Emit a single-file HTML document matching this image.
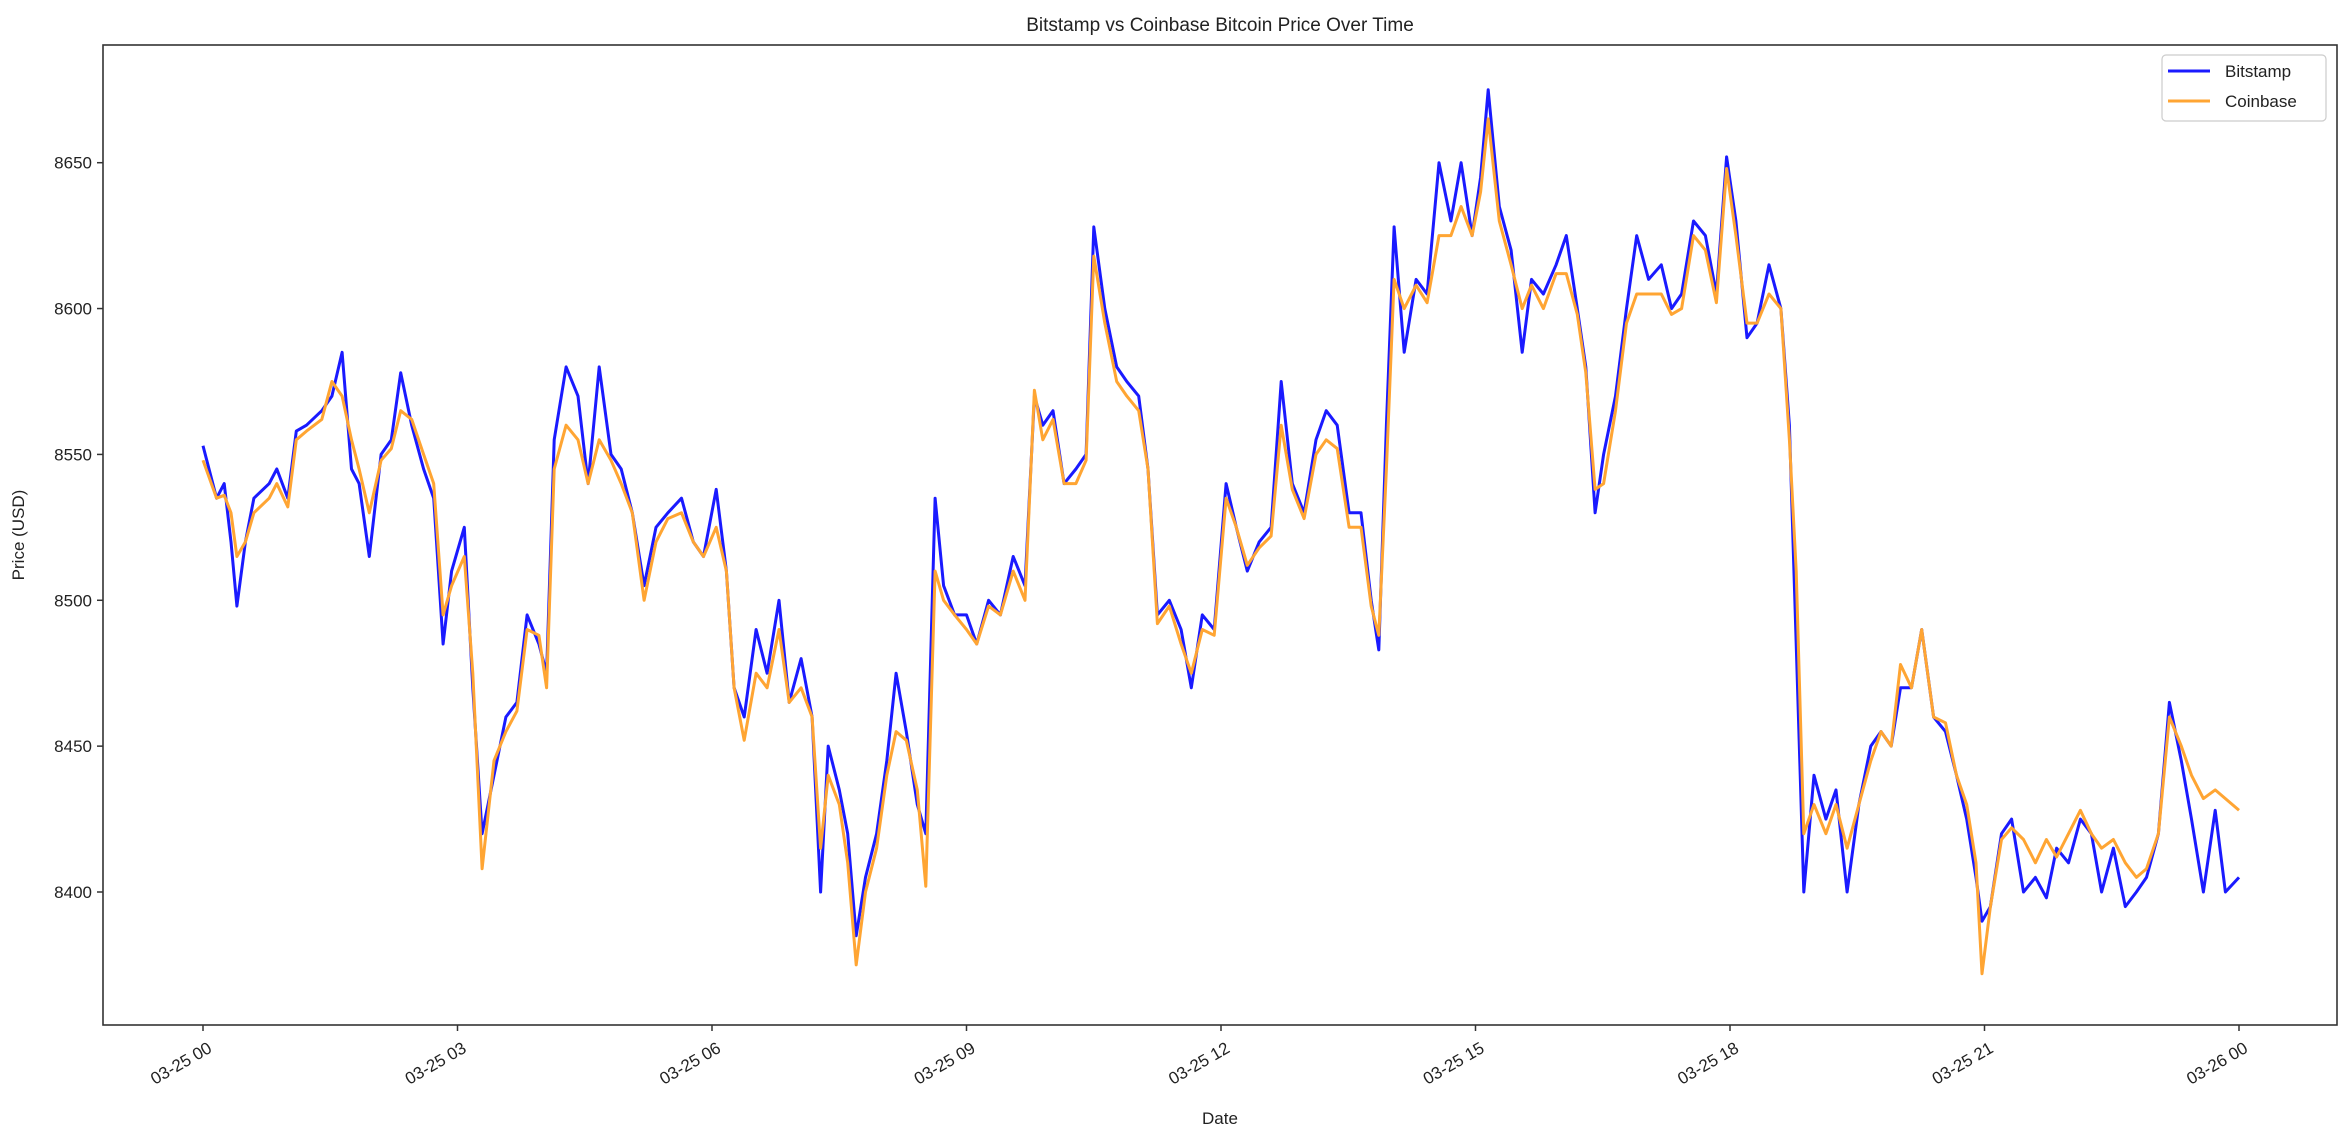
<!DOCTYPE html>
<html><head><meta charset="utf-8"><style>
body{margin:0;background:#fff;}
svg{display:block;font-family:"Liberation Sans","DejaVu Sans",sans-serif;}
</style></head><body>
<svg id="chart" width="2350" height="1140">
<rect x="0" y="0" width="2350" height="1140" fill="#fff"/>
<text x="1220" y="31" text-anchor="middle" font-size="19" fill="#222">Bitstamp vs Coinbase Bitcoin Price Over Time</text>
<text x="1220" y="1124" text-anchor="middle" font-size="17" fill="#222">Date</text>
<text transform="translate(24,535) rotate(-90)" text-anchor="middle" font-size="17" fill="#222">Price (USD)</text>
<g id="plot"></g>
<g id="axes"></g>
<g>
<rect x="2162" y="55" width="164" height="66" rx="4" fill="#fff" fill-opacity="0.8" stroke="#ccc" stroke-width="1.2"/>
<line x1="2168" y1="71" x2="2210" y2="71" stroke="#1a1aff" stroke-width="3"/>
<text x="2225" y="77" font-size="17" fill="#222">Bitstamp</text>
<line x1="2168" y1="101" x2="2210" y2="101" stroke="#ffa533" stroke-width="3"/>
<text x="2225" y="107" font-size="17" fill="#222">Coinbase</text>
</g>
</svg>
<script>
const hours = [0,0.16,0.25,0.33,0.4,0.5,0.6,0.78,0.87,1.0,1.1,1.22,1.4,1.52,1.64,1.75,1.84,1.96,2.1,2.22,2.33,2.46,2.6,2.72,2.83,2.93,3.08,3.18,3.29,3.43,3.57,3.7,3.82,3.96,4.05,4.14,4.28,4.42,4.54,4.67,4.81,4.93,5.06,5.2,5.34,5.48,5.64,5.78,5.9,6.05,6.17,6.26,6.38,6.52,6.65,6.79,6.91,7.05,7.18,7.28,7.37,7.5,7.6,7.7,7.81,7.94,8.06,8.17,8.29,8.42,8.52,8.63,8.73,8.86,9.0,9.12,9.26,9.4,9.55,9.69,9.8,9.9,10.02,10.15,10.29,10.41,10.5,10.63,10.77,10.89,11.03,11.14,11.25,11.39,11.53,11.65,11.78,11.92,12.06,12.18,12.31,12.45,12.59,12.71,12.84,12.98,13.12,13.24,13.37,13.51,13.65,13.77,13.86,13.95,14.04,14.16,14.3,14.43,14.57,14.71,14.83,14.96,15.06,15.15,15.28,15.42,15.55,15.66,15.8,15.95,16.07,16.2,16.3,16.41,16.51,16.65,16.78,16.9,17.04,17.19,17.31,17.43,17.57,17.71,17.84,17.96,18.07,18.2,18.32,18.46,18.6,18.7,18.78,18.87,18.99,19.13,19.25,19.38,19.52,19.66,19.78,19.9,20.01,20.14,20.26,20.4,20.54,20.67,20.79,20.9,20.97,21.07,21.2,21.32,21.46,21.6,21.73,21.85,21.99,22.13,22.26,22.38,22.52,22.66,22.79,22.91,23.05,23.18,23.32,23.44,23.58,23.72,23.84,24.0];
const bitstamp = [8553,8535,8540,8520,8498,8520,8535,8540,8545,8535,8558,8560,8565,8570,8585,8545,8540,8515,8550,8555,8578,8560,8545,8535,8485,8510,8525,8470,8420,8440,8460,8465,8495,8485,8475,8555,8580,8570,8540,8580,8550,8545,8530,8505,8525,8530,8535,8520,8515,8538,8510,8470,8460,8490,8475,8500,8465,8480,8460,8400,8450,8435,8420,8385,8405,8420,8445,8475,8455,8430,8420,8535,8505,8495,8495,8485,8500,8495,8515,8505,8570,8560,8565,8540,8545,8550,8628,8600,8580,8575,8570,8545,8495,8500,8490,8470,8495,8490,8540,8525,8510,8520,8525,8575,8540,8530,8555,8565,8560,8530,8530,8500,8483,8560,8628,8585,8610,8605,8650,8630,8650,8625,8645,8675,8635,8620,8585,8610,8605,8615,8625,8600,8580,8530,8550,8570,8600,8625,8610,8615,8600,8605,8630,8625,8605,8652,8630,8590,8595,8615,8600,8560,8485,8400,8440,8425,8435,8400,8430,8450,8455,8450,8470,8470,8490,8460,8455,8440,8425,8405,8390,8395,8420,8425,8400,8405,8398,8415,8410,8425,8420,8400,8415,8395,8400,8405,8420,8465,8445,8425,8400,8428,8400,8405,8428];
const coinbase = [8548,8535,8536,8530,8515,8520,8530,8535,8540,8532,8555,8558,8562,8575,8570,8555,8545,8530,8548,8552,8565,8562,8550,8540,8495,8505,8515,8475,8408,8445,8455,8462,8490,8488,8470,8545,8560,8555,8540,8555,8548,8540,8530,8500,8520,8528,8530,8520,8515,8525,8510,8470,8452,8475,8470,8490,8465,8470,8460,8415,8440,8430,8410,8375,8400,8415,8440,8455,8452,8435,8402,8510,8500,8495,8490,8485,8498,8495,8510,8500,8572,8555,8562,8540,8540,8548,8618,8595,8575,8570,8565,8545,8492,8498,8485,8475,8490,8488,8535,8525,8512,8518,8522,8560,8538,8528,8550,8555,8552,8525,8525,8498,8488,8545,8610,8600,8608,8602,8625,8625,8635,8625,8640,8665,8630,8615,8600,8608,8600,8612,8612,8598,8578,8538,8540,8565,8595,8605,8605,8605,8598,8600,8625,8620,8602,8648,8625,8595,8595,8605,8600,8555,8510,8420,8430,8420,8430,8415,8430,8445,8455,8450,8478,8470,8490,8460,8458,8440,8430,8410,8372,8395,8418,8422,8418,8410,8418,8412,8420,8428,8420,8415,8418,8410,8405,8408,8420,8460,8450,8440,8432,8435,8432,8428,8430];
const yTicks = [8400,8450,8500,8550,8600,8650];
const xTickHours = [0,3,6,9,12,15,18,21,24];
const xTickLabels = ["03-25 00","03-25 03","03-25 06","03-25 09","03-25 12","03-25 15","03-25 18","03-25 21","03-26 00"];

const L=103,R=2337,T=45,B=1025;
function xs(h){return 203+h*(2239-203)/24;}
function ys(p){return 162.7+(8650-p)*(892-162.7)/250;}
const NS="http://www.w3.org/2000/svg";
const plot=document.getElementById('plot'), axes=document.getElementById('axes');
function path(vals,color,name){
  const p=document.createElementNS(NS,'path');
  let d='';
  for(let i=0;i<hours.length;i++){d+=(i?'L':'M')+xs(hours[i]).toFixed(1)+','+ys(vals[i]).toFixed(1);}
  p.setAttribute('d',d);p.setAttribute('fill','none');p.setAttribute('stroke',color);
  p.setAttribute('stroke-width','3');p.setAttribute('stroke-linejoin','round');
  
  
  plot.appendChild(p);
}
path(bitstamp,'#1a1aff','bitstamp-line');
path(coinbase,'#ffa533','coinbase-line');

const frame=document.createElementNS(NS,'rect');
frame.setAttribute('x',L);frame.setAttribute('y',T);frame.setAttribute('width',R-L);frame.setAttribute('height',B-T);
frame.setAttribute('fill','none');frame.setAttribute('stroke','#333');frame.setAttribute('stroke-width','1.6');


axes.appendChild(frame);

yTicks.forEach(v=>{
  const y=ys(v);
  const t=document.createElementNS(NS,'line');
  t.setAttribute('x1',L-6);t.setAttribute('x2',L);t.setAttribute('y1',y);t.setAttribute('y2',y);
  t.setAttribute('stroke','#333');t.setAttribute('stroke-width','1.5');
  
  
  axes.appendChild(t);
  const s=document.createElementNS(NS,'text');
  s.setAttribute('x',L-11);s.setAttribute('y',y+6);s.setAttribute('text-anchor','end');
  s.setAttribute('font-size','17');s.setAttribute('fill','#222');s.textContent=v;
  
  
  axes.appendChild(s);
});
xTickHours.forEach((h,i)=>{
  const x=xs(h);
  const t=document.createElementNS(NS,'line');
  t.setAttribute('x1',x);t.setAttribute('x2',x);t.setAttribute('y1',B);t.setAttribute('y2',B+6);
  t.setAttribute('stroke','#333');t.setAttribute('stroke-width','1.5');
  
  
  axes.appendChild(t);
  const s=document.createElementNS(NS,'text');
  s.setAttribute('transform','translate('+(x+4)+','+(B+16)+') rotate(-30)');
  s.setAttribute('text-anchor','end');s.setAttribute('dominant-baseline','hanging');
  s.setAttribute('font-size','17');s.setAttribute('fill','#222');s.textContent=xTickLabels[i];
  
  
  axes.appendChild(s);
});
</script>
</body></html>
